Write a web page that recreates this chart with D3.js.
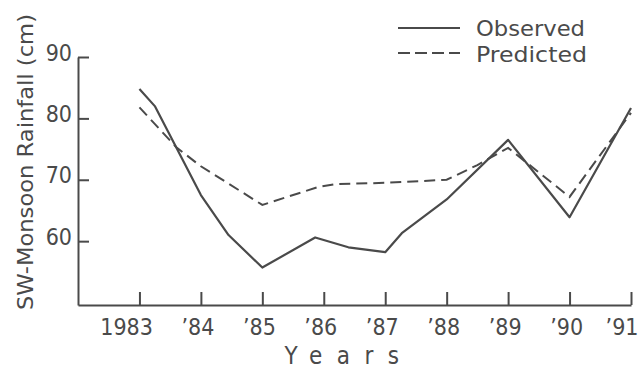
<!DOCTYPE html>
<html>
<head>
<meta charset="utf-8">
<script src="https://cdn.jsdelivr.net/npm/d3@7"></script>
<style>
  body { margin: 0; background: #fff; }
  svg { display: block; }
  text { font-family: "DejaVu Sans Condensed", "DejaVu Sans", sans-serif; fill: #4a4a4a; }
</style>
</head>
<body>
<div id="chart"></div>
<script>
// observed series (year, cm)
const obsYears = [1983, 1983.25, 1984, 1984.45, 1985, 1985.86, 1986.4, 1987, 1987.27, 1988, 1989, 1990, 1991];
const obsValues = [84.8, 82.0, 67.5, 61.0, 55.7, 60.6, 59.0, 58.2, 61.3, 66.8, 76.5, 63.9, 81.7];

// predicted series
const predYears = [1983, 1983.6, 1984, 1985, 1985.9, 1986.2, 1987, 1988, 1988.5, 1989, 1990, 1991];
const predValues = [81.8, 75.3, 72.2, 65.9, 68.8, 69.3, 69.5, 70.0, 72.4, 75.2, 67.2, 80.9];

const yearTicks = [1983, 1984, 1985, 1986, 1987, 1988, 1989, 1990, 1991];
const yearLabels = ['1983', '\u201984', '\u201985', '\u201986', '\u201987', '\u201988', '\u201989', '\u201990', '\u201991'];
const yTicks = [60, 70, 80, 90];

const width = 641, height = 370;
const ink = '#4a4a4a';

const svg = d3.select('#chart').append('svg')
  .attr('width', width)
  .attr('height', height);

const x = d3.scaleLinear().domain([1982, 1991]).range([78, 631]);
const y = d3.scaleLinear().domain([49.6, 90]).range([305, 57]);

// x axis, ticks point up into the plot
const xAxis = svg.append('g')
  .attr('transform', `translate(0, ${y(49.6)})`)
  .call(d3.axisBottom(x)
    .tickValues(yearTicks)
    .tickSizeInner(-13)
    .tickSizeOuter(0)
    .tickFormat((d, i) => yearLabels[i]));
xAxis.select('.domain').attr('stroke', ink).attr('stroke-width', 2);
xAxis.selectAll('.tick line').attr('stroke', ink).attr('stroke-width', 2);
// labels sit a little right of their tick, but stay inside the page
xAxis.selectAll('.tick text')
  .attr('text-anchor', 'end')
  .attr('x', d => Math.min(x(d) + 13, width - 3) - x(d))
  .attr('y', 30).attr('dy', 0)
  .attr('font-size', 23)
  .style('fill', ink);

// y axis, ticks point right
const yAxis = svg.append('g')
  .attr('transform', `translate(${x(1982)}, 0)`)
  .call(d3.axisLeft(y)
    .tickValues(yTicks)
    .tickSizeInner(-11)
    .tickSizeOuter(0)
    .tickPadding(6));
yAxis.select('.domain').attr('stroke', ink).attr('stroke-width', 2);
yAxis.selectAll('.tick line').attr('stroke', ink).attr('stroke-width', 2);
yAxis.selectAll('.tick text')
  .attr('x', -6).attr('dy', 3)
  .attr('font-size', 23)
  .style('fill', ink);

// axis titles
svg.append('text')
  .attr('transform', `translate(33, 162) rotate(-90)`)
  .attr('text-anchor', 'middle')
  .attr('font-size', 22)
  .attr('textLength', 296)
  .attr('lengthAdjust', 'spacingAndGlyphs')
  .text('SW-Monsoon Rainfall (cm)');

svg.append('text')
  .attr('x', 349)
  .attr('y', 364)
  .attr('text-anchor', 'middle')
  .attr('font-size', 24)
  .attr('letter-spacing', 14.5)
  .text('Years');

// lines
const obs = obsYears.map((d, i) => ({ year: d, value: obsValues[i] }));
const pred = predYears.map((d, i) => ({ year: d, value: predValues[i] }));

const line = d3.line()
  .x(d => x(d.year))
  .y(d => y(d.value));

svg.append('path')
  .datum(pred)
  .attr('fill', 'none')
  .attr('stroke', ink)
  .attr('stroke-width', 2)
  .attr('stroke-dasharray', '11,6')
  .attr('d', line);

svg.append('path')
  .datum(obs)
  .attr('fill', 'none')
  .attr('stroke', ink)
  .attr('stroke-width', 2.2)
  .attr('stroke-linejoin', 'round')
  .attr('d', line);

// legend
const legend = svg.append('g').attr('transform', 'translate(398, 0)');
legend.append('line')
  .attr('x1', 0).attr('x2', 62).attr('y1', 28).attr('y2', 28)
  .attr('stroke', ink).attr('stroke-width', 2);
legend.append('line')
  .attr('x1', 0).attr('x2', 62).attr('y1', 53).attr('y2', 53)
  .attr('stroke', ink).attr('stroke-width', 2)
  .attr('stroke-dasharray', '12,5');
legend.append('text')
  .attr('x', 78).attr('y', 36)
  .attr('font-size', 22)
  .attr('textLength', 109)
  .attr('lengthAdjust', 'spacingAndGlyphs')
  .text('Observed');
legend.append('text')
  .attr('x', 78).attr('y', 62)
  .attr('font-size', 22)
  .attr('textLength', 111)
  .attr('lengthAdjust', 'spacingAndGlyphs')
  .text('Predicted');
</script>
</body>
</html>
